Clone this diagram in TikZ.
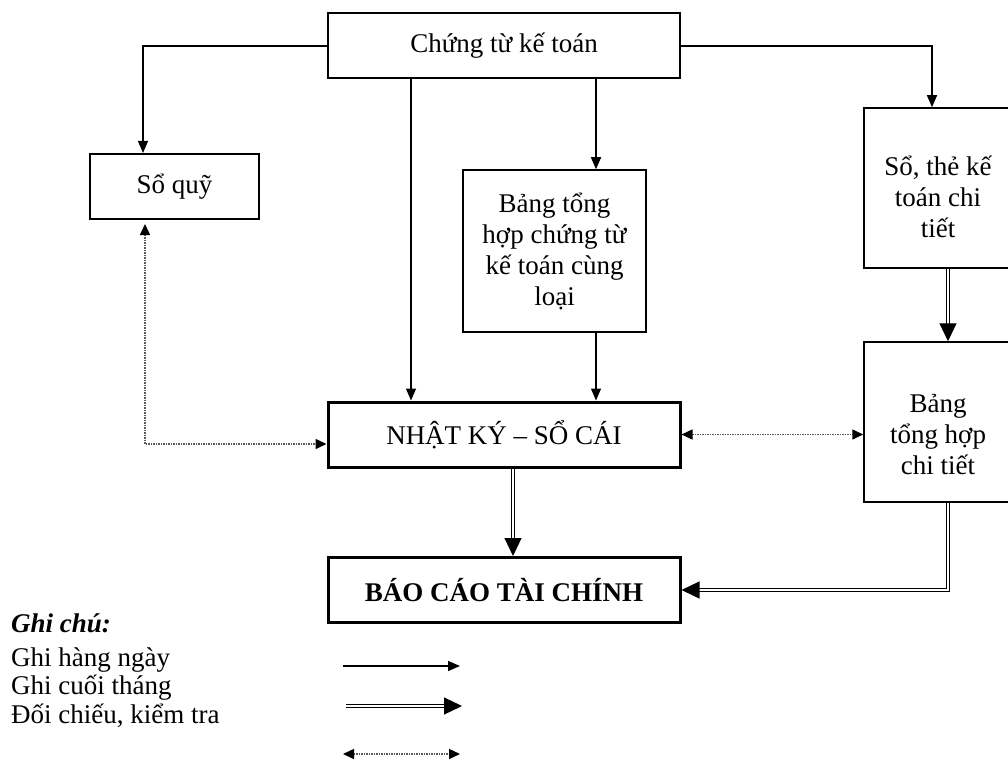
\documentclass[tikz,border=0pt]{standalone}
\usepackage{fontspec}
\setmainfont{Liberation Serif}
\usepackage{tikz}
\usetikzlibrary{arrows.meta,calc}

\begin{document}
\begin{tikzpicture}[
    x=1pt, y=-1pt,
    font=\fontsize{27}{31}\selectfont,
    box/.style     = {draw, align=center, inner sep=0pt, line width=1.5pt},
    widebox/.style = {box, minimum width=352pt, minimum height=65pt},
    rbox/.style    = {box, minimum width=148pt, minimum height=160pt},
    rtext/.style   = {align=center, inner sep=0pt},
    note/.style    = {anchor=west, inner sep=0pt},
    arr/.style     = {-{Triangle[length=12pt,width=10pt]}, line width=1.3pt},
    darr/.style    = {-{Triangle[length=18pt,width=17pt]}, line width=1.1pt,
                      double, double distance=2.5pt},
    chk/.style     = {{Triangle[length=11pt,width=10pt,color=black]}-{Triangle[length=11pt,width=10pt,color=black]},
                      gray!70!black, line width=1.5pt, dash pattern=on 1.5pt off 1pt},
]
\useasboundingbox (0,0) rectangle (1008,762);
\clip (0,0) rectangle (1008,762);

% ============ boxes ============
\node[widebox, line width=2pt] (chungtu) at (504,46) {Chứng từ kế toán};
\node[box, line width=2pt, minimum width=169pt, minimum height=65pt] (soquy) at (174.5,186.5) {Sổ quỹ};
\node[box, minimum width=183pt, minimum height=162pt] (banghop) at (554.5,251)
    {Bảng tổng\\hợp chứng từ\\kế toán cùng\\loại};
\node[rbox, label={[rtext, yshift=-9pt]center:{Sổ, thẻ kế\\toán chi\\tiết}}]
    (sothe) at (938,188) {};
\node[rbox, label={[rtext, yshift=-13pt]center:{Bảng\\tổng hợp\\chi tiết}}]
    (bangct) at (938,422) {};
\node[widebox, line width=3pt] (nhatky) at (504,434.5) {NHẬT KÝ – SỔ CÁI};
\node[widebox, line width=3pt] (baocao) at (504,590) {\textbf{BÁO CÁO TÀI CHÍNH}};

% ============ daily entries ============
\draw[arr] (chungtu.west) -| ([xshift=-31.5pt]soquy.north);
\draw[arr] (chungtu.east) -| ([xshift=-6pt]sothe.north);
\draw[arr] ([xshift=-93pt]chungtu.south) -- ([xshift=-93pt]nhatky.north);
\draw[arr] ([xshift=92pt]chungtu.south) -- ([xshift=41.5pt]banghop.north);
\draw[arr] ([xshift=41.5pt]banghop.south) -- ([xshift=92pt]nhatky.north);

% ============ month-end entries ============
\draw[darr] ([xshift=10pt]sothe.south) -- ([xshift=10pt]bangct.north);
\draw[darr] ([xshift=9pt]nhatky.south) -- ([xshift=9pt]baocao.north);
\draw[darr] ([xshift=10pt]bangct.south) |- (baocao.east);

% ============ cross-checks ============
\draw[chk] ([xshift=-29.5pt,yshift=-4pt]soquy.south) |- ([yshift=-9.5pt]nhatky.west);
\draw[chk] (nhatky.east) -- (nhatky.east -| bangct.west);

% ============ legend ============
\node[note] (ghichu) at (11,623) {\textbf{\textit{Ghi chú:}}};
\node[note] (hangngay) at (11,660) {Ghi hàng ngày};
\node[note] (cuoithang) at (11,688) {Ghi cuối tháng};
\node[note] (doichieu) at (11,716) {Đối chiếu, kiểm tra};

\coordinate (l1a) at (343,666);  \coordinate (l1b) at (460,666);
\coordinate (l2a) at (346,706);  \coordinate (l2b) at (462,706);
\coordinate (l3a) at (343,754);  \coordinate (l3b) at (460,754);
\draw[arr] (l1a) -- (l1b);
\draw[darr] (l2a) -- (l2b);
\draw[chk] (l3a) -- (l3b);

\end{tikzpicture}
\end{document}
